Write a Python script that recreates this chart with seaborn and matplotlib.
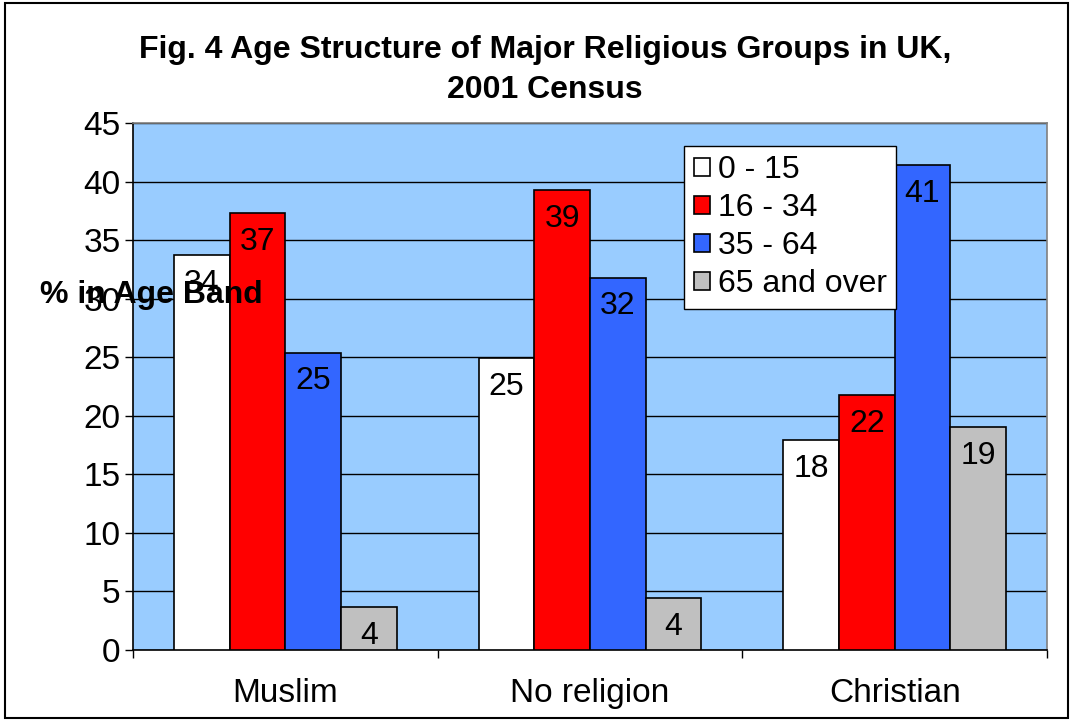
import matplotlib
matplotlib.use("Agg")
import matplotlib.pyplot as plt
import seaborn as sns
import pandas as pd
from matplotlib.patches import Rectangle

# data
groups = ["Muslim", "No religion", "Christian"]
bands = ["0 - 15", "16 - 34", "35 - 64", "65 and over"]
band_0_15 = [33.7, 24.9, 17.9]
band_16_34 = [37.3, 39.3, 21.8]
band_35_64 = [25.4, 31.8, 41.4]
band_65_over = [3.7, 4.4, 19.0]
colors = ["#FFFFFF", "#FF0000", "#3366FF", "#C0C0C0"]

rows = []
for band, vals in zip(bands, [band_0_15, band_16_34, band_35_64, band_65_over]):
    for g, v in zip(groups, vals):
        rows.append({"group": g, "band": band, "pct": v})
df = pd.DataFrame(rows)

sns.set_style("white")
plt.rcParams["font.family"] = ["Liberation Sans", "DejaVu Sans"]
plt.rcParams["text.color"] = "black"
plt.rcParams["xtick.color"] = "black"
plt.rcParams["ytick.color"] = "black"

fig = plt.figure(figsize=(10.73, 7.21), dpi=100)
ax = fig.add_axes([133 / 1073, 1 - 650 / 721, 914 / 1073, 527 / 721])
ax.set_facecolor("#99CCFF")

sns.barplot(data=df, x="group", y="pct", hue="band", order=groups, hue_order=bands,
            palette=colors, width=0.73, edgecolor="black", linewidth=1.2,
            saturation=1, ax=ax, zorder=3)

ax.set_ylim(0, 45)
ax.set_yticks(range(0, 46, 5))
ax.set_xlim(-0.5, 2.5)
ax.yaxis.grid(True, color="black", linewidth=1, zorder=0)
ax.set_axisbelow(True)
ax.tick_params(axis="y", labelsize=24, length=6, width=1, direction="out", left=True, pad=3)
ax.tick_params(axis="x", labelsize=24, length=0, pad=20)
# category boundary ticks like the original
ax.set_xticks([-0.5, 0.5, 1.5, 2.5], minor=True)
ax.tick_params(axis="x", which="minor", length=6, width=1, direction="out", bottom=True)
ax.set_xlabel("")
ax.set_ylabel("")
for s in ax.spines.values():
    s.set_color("#808080")
    s.set_linewidth(1.2)
ax.spines["bottom"].set_color("black")
ax.spines["left"].set_color("black")

for cont in ax.containers:
    for bar in cont:
        h = bar.get_height()
        ax.annotate(f"{h:.0f}", (bar.get_x() + bar.get_width() / 2, h),
                    xytext=(0, -10), textcoords="offset points",
                    ha="center", va="top", fontsize=23, zorder=5)

leg = ax.legend(loc="upper left", bbox_to_anchor=(0.603, 0.957), fontsize=23,
                frameon=True, fancybox=False, edgecolor="black", framealpha=1,
                handlelength=0.5, handleheight=0.5, handletextpad=0.25,
                labelspacing=0.25, borderpad=0.3, borderaxespad=0)
leg.get_frame().set_linewidth(1)

fig.text(0.508, 1 - 50 / 721, "Fig. 4 Age Structure of Major Religious Groups in UK,",
         ha="center", va="center", fontsize=23, fontweight="bold")
fig.text(0.508, 1 - 90 / 721, "2001 Census",
         ha="center", va="center", fontsize=23, fontweight="bold")
fig.text(151 / 1073, 1 - 295 / 721, "% in Age Band", ha="center", va="center",
         fontsize=23, fontweight="bold", zorder=10)

fig.patches.append(Rectangle((5 / 1073, 3 / 721), 1063 / 1073, 715 / 721,
                             transform=fig.transFigure, fill=False,
                             edgecolor="black", linewidth=1.5))

fig.savefig("out.png", dpi=100)
